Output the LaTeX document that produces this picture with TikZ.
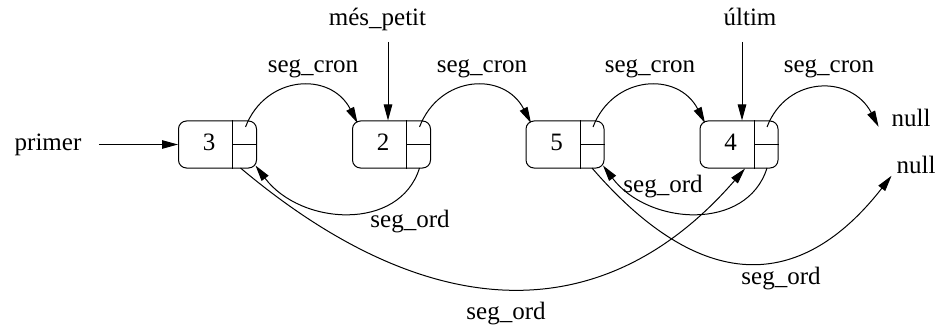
\documentclass[tikz,border=0pt]{standalone}
\usepackage{fontspec}
\setmainfont{Liberation Serif}
\usetikzlibrary{arrows.meta,calc}
\tikzset{
  cell/.style={draw, rounded corners=3.2pt, minimum width=31.2pt, minimum height=18.8pt, inner sep=0pt},
  lbl/.style={inner sep=0pt, anchor=base},
  ptr/.style={-{Triangle[length=6.4pt,width=3.4pt]}}
}
\begin{document}
\begin{tikzpicture}[x=0.4pt, y=-0.4pt]
        \useasboundingbox (0,0) rectangle (938,326);

        \node[lbl] (primer) at (48,151) {primer};
        \node[lbl] (mespetit) at (377.5,25.5) {més\_petit};
        \node[lbl] (ultim) at (750,25.5) {últim};
        \node[lbl] (null1) at (911,127) {null};
        \node[lbl] (null2) at (916,173) {null};

        \node[cell] (n3) at (217.5,144.5) {};
        \node (v3) at ($(n3)+(-8.5,-2)$) {3};
        \draw ($(n3.north)+(15,0)$) -- ($(n3.south)+(15,0)$);
        \draw ($(n3)+(15,0)$) -- (n3.east);

        \node[cell] (n2) at (391.5,144.5) {};
        \node (v2) at ($(n2)+(-8.5,-2)$) {2};
        \draw ($(n2.north)+(15,0)$) -- ($(n2.south)+(15,0)$);
        \draw ($(n2)+(15,0)$) -- (n2.east);

        \node[cell] (n5) at (565,144.5) {};
        \node (v5) at ($(n5)+(-8.5,-2)$) {5};
        \draw ($(n5.north)+(15,0)$) -- ($(n5.south)+(15,0)$);
        \draw ($(n5)+(15,0)$) -- (n5.east);

        \node[cell] (n4) at (739,144.5) {};
        \node (v4) at ($(n4)+(-8.5,-2)$) {4};
        \draw ($(n4.north)+(15,0)$) -- ($(n4.south)+(15,0)$);
        \draw ($(n4)+(15,0)$) -- (n4.east);

        \coordinate (n2top) at ($(n2.north)+(-3.5,0)$);
        \coordinate (n4top) at ($(n4.north)+(3,0)$);
        \draw[ptr, shorten <=6.8pt] (primer.east |- n3.west) -- (n3.west);
        \draw[ptr, shorten <=6.6pt] (mespetit.base -| n2top) -- (n2top);
        \draw[ptr, shorten <=6.6pt] (ultim.base -| n4top) -- (n4top);

        \draw[ptr] ($(n3)+(28,-17.5)$) .. controls +(20,-52) and +(-27,-52) .. ($(n2)+(-34,-21.5)$);
        \draw[ptr] ($(n2)+(28,-17.5)$) .. controls +(20,-52) and +(-27,-52) .. ($(n5)+(-34,-21.5)$);
        \draw[ptr] ($(n5)+(28,-17.5)$) .. controls +(20,-52) and +(-27,-52) .. ($(n4)+(-34,-21.5)$);
        \draw[ptr] ($(n4)+(28,-17.5)$) .. controls +(20,-52) and +(-27,-52) .. ($(null1.south west)+(-12.5,-1)$);
        \node[lbl] (cron1) at (313,73) {seg\_cron};
        \node[lbl] (cron2) at (482,73) {seg\_cron};
        \node[lbl] (cron3) at (650,73) {seg\_cron};
        \node[lbl] (cron4) at (829,73) {seg\_cron};

        \draw[ptr] ($(n2)+(28,23.5)$) .. controls +(-20,64) and +(45,60) .. ($(n3)+(38,21)$);
        \draw[ptr] ($(n4)+(28,23.5)$) .. controls +(-20,64) and +(45,60) .. ($(n5)+(38,21)$);
        \draw[ptr] ($(n3)+(23,23.5)$) .. controls +(191.5,161) and +(-139,160.5) .. ($(n4)+(6,24)$);
        \draw[ptr] ($(n5)+(27,23.5)$) .. controls +(108,125) and +(-92,118) .. ($(null2.south west)+(-4.5,2)$);
        \node[lbl] (ord1) at (410,227) {seg\_ord};
        \node[lbl] (ord2) at (663,192) {seg\_ord};
        \node[lbl] (ord3) at (506,319) {seg\_ord};
        \node[lbl] (ord4) at (781,284) {seg\_ord};
\end{tikzpicture}
\end{document}
